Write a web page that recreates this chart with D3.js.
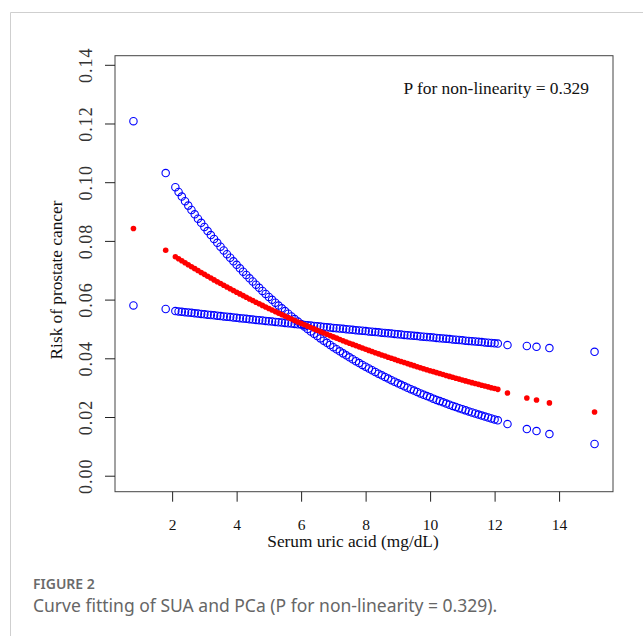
<!DOCTYPE html>
<html>
<head>
<meta charset="utf-8">
<script src="https://cdn.jsdelivr.net/npm/d3@7/dist/d3.min.js"></script>
<style>
body { margin: 0; background: #fff; }
.serif { font-family: "Liberation Serif", "Times New Roman", serif; fill: #111; }
.caption { font-family: "Noto Sans", "Open Sans", sans-serif; fill: #5a5a5a; }
</style>
</head>
<body>
<svg id="chart" width="643" height="636"></svg>
<script>
// serum uric acid values (mg/dL)
var sua = [0.8, 1.8,
    2.1, 2.2, 2.3, 2.4, 2.5, 2.6, 2.7, 2.8, 2.9, 3.0,
    3.1, 3.2, 3.3, 3.4, 3.5, 3.6, 3.7, 3.8, 3.9, 4.0,
    4.1, 4.2, 4.3, 4.4, 4.5, 4.6, 4.7, 4.8, 4.9, 5.0,
    5.1, 5.2, 5.3, 5.4, 5.5, 5.6, 5.7, 5.8, 5.9, 6.0,
    6.1, 6.2, 6.3, 6.4, 6.5, 6.6, 6.7, 6.8, 6.9, 7.0,
    7.1, 7.2, 7.3, 7.4, 7.5, 7.6, 7.7, 7.8, 7.9, 8.0,
    8.1, 8.2, 8.3, 8.4, 8.5, 8.6, 8.7, 8.8, 8.9, 9.0,
    9.1, 9.2, 9.3, 9.4, 9.5, 9.6, 9.7, 9.8, 9.9, 10.0,
    10.1, 10.2, 10.3, 10.4, 10.5, 10.6, 10.7, 10.8, 10.9, 11.0,
    11.1, 11.2, 11.3, 11.4, 11.5, 11.6, 11.7, 11.8, 11.9, 12.0,
    12.1, 12.4, 13.0, 13.3, 13.7, 15.1];

// fitted risk (red dots)
var risk = [0.0842, 0.0768,
    0.0746, 0.07391, 0.07323, 0.07255, 0.07188, 0.07121, 0.07055, 0.0699, 0.06925, 0.06861,
    0.06798, 0.06735, 0.06672, 0.0661, 0.06549, 0.06489, 0.06429, 0.06369, 0.0631, 0.06252,
    0.06194, 0.06137, 0.0608, 0.06023, 0.05968, 0.05912, 0.05858, 0.05803, 0.0575, 0.05697,
    0.05644, 0.05592, 0.0554, 0.05489, 0.05438, 0.05387, 0.05338, 0.05288, 0.05239, 0.05191,
    0.05143, 0.05095, 0.05048, 0.05001, 0.04955, 0.04909, 0.04863, 0.04818, 0.04774, 0.0473,
    0.04686, 0.04643, 0.046, 0.04557, 0.04515, 0.04473, 0.04432, 0.04391, 0.0435, 0.0431,
    0.0427, 0.0423, 0.04191, 0.04152, 0.04114, 0.04076, 0.04038, 0.04001, 0.03964, 0.03927,
    0.03891, 0.03855, 0.03819, 0.03784, 0.03749, 0.03714, 0.03679, 0.03645, 0.03612, 0.03578,
    0.03545, 0.03512, 0.0348, 0.03448, 0.03416, 0.03384, 0.03353, 0.03322, 0.03291, 0.0326,
    0.0323, 0.032, 0.03171, 0.03141, 0.03112, 0.03084, 0.03055, 0.03027, 0.02999, 0.02971,
    0.02943, 0.0282, 0.0265, 0.0258, 0.0248, 0.0217];

// first confidence bound (steep one, blue circles)
var ciSteep = [0.1208, 0.1031,
    0.0983, 0.09669, 0.09511, 0.09355, 0.09202, 0.09052, 0.08904, 0.08758, 0.08615, 0.08474,
    0.08335, 0.08199, 0.08064, 0.07933, 0.07803, 0.07675, 0.07549, 0.07426, 0.07304, 0.07185,
    0.07067, 0.06951, 0.06838, 0.06726, 0.06616, 0.06507, 0.06401, 0.06296, 0.06193, 0.06092,
    0.05992, 0.05894, 0.05797, 0.05703, 0.05609, 0.05518, 0.05427, 0.05338, 0.05251, 0.05165,
    0.05081, 0.04998, 0.04916, 0.04836, 0.04756, 0.04679, 0.04602, 0.04527, 0.04453, 0.0438,
    0.04308, 0.04237, 0.04168, 0.041, 0.04033, 0.03967, 0.03902, 0.03838, 0.03775, 0.03714,
    0.03653, 0.03593, 0.03534, 0.03477, 0.0342, 0.03364, 0.03309, 0.03255, 0.03201, 0.03149,
    0.03097, 0.03046, 0.02996, 0.02947, 0.02899, 0.02852, 0.02805, 0.02759, 0.02714, 0.0267,
    0.02626, 0.02583, 0.02541, 0.02499, 0.02458, 0.02418, 0.02379, 0.0234, 0.02301, 0.02264,
    0.02226, 0.0219, 0.02154, 0.02119, 0.02084, 0.0205, 0.02016, 0.01983, 0.01951, 0.01919,
    0.01888, 0.0176, 0.0159, 0.0152, 0.0142, 0.0108];

// second confidence bound (flat one, blue circles)
var ciFlat = [0.058, 0.0568,
    0.0561, 0.05598, 0.05585, 0.05573, 0.05561, 0.05549, 0.05536, 0.05524, 0.05512, 0.055,
    0.05488, 0.05476, 0.05464, 0.05452, 0.0544, 0.05428, 0.05416, 0.05404, 0.05392, 0.0538,
    0.05368, 0.05356, 0.05344, 0.05333, 0.05321, 0.05309, 0.05298, 0.05286, 0.05274, 0.05263,
    0.05252, 0.0524, 0.05229, 0.05217, 0.05206, 0.05195, 0.05183, 0.05172, 0.0516, 0.05149,
    0.05137, 0.05126, 0.05115, 0.05103, 0.05092, 0.05081, 0.0507, 0.05058, 0.05047, 0.05036,
    0.05026, 0.05015, 0.05004, 0.04993, 0.04982, 0.04971, 0.0496, 0.04949, 0.04938, 0.04928,
    0.04916, 0.04905, 0.04895, 0.04884, 0.04873, 0.04862, 0.04852, 0.04841, 0.0483, 0.0482,
    0.04809, 0.04798, 0.04788, 0.04777, 0.04767, 0.04756, 0.04746, 0.04735, 0.04725, 0.04715,
    0.04705, 0.04695, 0.04684, 0.04674, 0.04664, 0.04654, 0.04643, 0.04633, 0.04623, 0.04613,
    0.04602, 0.04592, 0.04582, 0.04572, 0.04562, 0.04552, 0.04542, 0.04532, 0.04522, 0.04512,
    0.04502, 0.0445, 0.0442, 0.0439, 0.0435, 0.0422];

var xTicks = [2, 4, 6, 8, 10, 12, 14];
var yTicks = [0, 0.02, 0.04, 0.06, 0.08, 0.10, 0.12, 0.14];
var yTickLabels = ["0.00", "0.02", "0.04", "0.06", "0.08", "0.10", "0.12", "0.14"];

var svg = d3.select("#chart");

// card outline (journal figure frame)
svg.append("path")
    .attr("d", "M10.5,640V12.5H650")
    .attr("fill", "none")
    .attr("stroke", "#cfcfcf")
    .attr("stroke-width", 1);

var box = {left: 115, right: 613, top: 55.7, bottom: 491.7};

var x = d3.scaleLinear().domain([0.228, 15.672]).range([box.left, box.right]);
var y = d3.scaleLinear().domain([-0.00545, 0.1431]).range([box.bottom, box.top]);

// points, blue bounds first so the red estimate sits on top
var pts = sua.map(function (d, i) {
    return {x: d, est: risk[i], a: ciSteep[i], b: ciFlat[i]};
});

var plot = svg.append("g");

["a", "b"].forEach(function (key) {
    plot.selectAll(".ci-" + key)
        .data(pts)
        .enter()
        .append("circle")
        .attr("class", "ci-" + key)
        .attr("cx", function (d) { return x(d.x); })
        .attr("cy", function (d) { return y(d[key]); })
        .attr("r", 3.7)
        .attr("fill", "none")
        .attr("stroke", "#0000ff")
        .attr("stroke-width", 1.1);
});

plot.selectAll(".est")
    .data(pts)
    .enter()
    .append("circle")
    .attr("class", "est")
    .attr("cx", function (d) { return x(d.x); })
    .attr("cy", function (d) { return y(d.est); })
    .attr("r", 2.8)
    .attr("fill", "#ff0000");

// plot box
svg.append("rect")
    .attr("x", box.left)
    .attr("y", box.top)
    .attr("width", box.right - box.left)
    .attr("height", box.bottom - box.top)
    .attr("fill", "none")
    .attr("stroke", "#444")
    .attr("stroke-width", 1);

var xAxis = svg.append("g")
    .attr("transform", "translate(0," + box.bottom + ")")
    .call(d3.axisBottom(x).tickValues(xTicks).tickSize(10).tickFormat(d3.format("d")));

xAxis.select(".domain").remove();
xAxis.selectAll("line").attr("stroke", "#222");
xAxis.selectAll("text")
    .attr("class", "serif")
    .attr("y", 38)
    .attr("dy", 0)
    .style("font-size", "15.5px");

var yAxis = svg.append("g")
    .attr("transform", "translate(" + box.left + ",0)")
    .call(d3.axisLeft(y).tickValues(yTicks).tickSize(10)
        .tickFormat(function (d, i) { return yTickLabels[i]; }));

yAxis.select(".domain").remove();
yAxis.selectAll("line").attr("stroke", "#222");
yAxis.selectAll("text")
    .attr("class", "serif")
    .attr("transform", "rotate(-90)")
    .attr("x", 0)
    .attr("y", -23)
    .attr("dy", 0)
    .attr("text-anchor", "middle")
    .style("font-size", "18px")
    .style("letter-spacing", "1px")
    .style("fill", "#333");

// axis titles
svg.append("text")
    .attr("class", "serif")
    .attr("x", 353)
    .attr("y", 547)
    .attr("text-anchor", "middle")
    .style("font-size", "17.3px")
    .text("Serum uric acid (mg/dL)");

svg.append("text")
    .attr("class", "serif")
    .attr("transform", "translate(62,280) rotate(-90)")
    .attr("text-anchor", "middle")
    .style("font-size", "17.3px")
    .text("Risk of prostate cancer");

svg.append("text")
    .attr("class", "serif")
    .attr("x", 589)
    .attr("y", 94)
    .attr("text-anchor", "end")
    .style("font-size", "17.4px")
    .text("P for non-linearity = 0.329");

// figure caption
svg.append("text")
    .attr("class", "caption")
    .attr("x", 33)
    .attr("y", 589)
    .style("font-size", "14px")
    .style("font-weight", 600)
    .style("fill", "#6a6a6a")
    .text("FIGURE 2");

svg.append("text")
    .attr("class", "caption")
    .attr("x", 33)
    .attr("y", 612)
    .style("font-size", "17.5px")
    .style("fill", "#666")
    .text("Curve fitting of SUA and PCa (P for non-linearity = 0.329).");
</script>
</body>
</html>
